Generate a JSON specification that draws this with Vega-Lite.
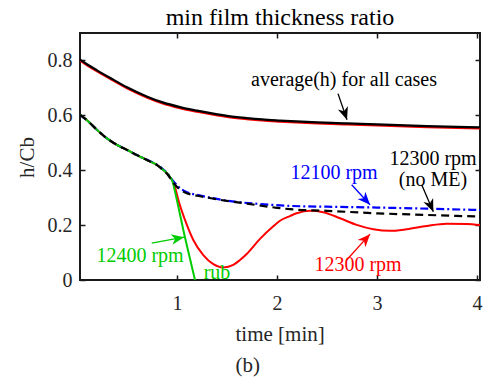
{
  "$schema": "https://vega.github.io/schema/vega-lite/v6.json",
  "autosize": "none",
  "width": 400,
  "height": 247,
  "padding": {"left": 80, "top": 33, "right": 4, "bottom": 98},
  "background": "white",
  "title": {
    "text": "min film thickness ratio",
    "font": "Liberation Serif",
    "fontSize": 24,
    "fontWeight": "normal",
    "color": "#000000",
    "anchor": "middle",
    "baseline": "alphabetic",
    "offset": 7,
    "dy": 24
  },
  "config": {
    "view": {"stroke": "#1a1a1a", "strokeWidth": 2},
    "axis": {
      "domain": false,
      "grid": false,
      "tickSize": -5,
      "tickColor": "#1a1a1a",
      "tickWidth": 1.5,
      "labelFont": "Liberation Serif",
      "labelFontSize": 20,
      "labelColor": "#262626",
      "titleFont": "Liberation Serif",
      "titleFontSize": 21,
      "titleFontWeight": "normal",
      "titleColor": "#262626"
    }
  },
  "datasets": {
    "curves": [
      {"series": "average", "t": 0.03, "h": 0.803},
      {"series": "average", "t": 0.1, "h": 0.786},
      {"series": "average", "t": 0.2, "h": 0.764},
      {"series": "average", "t": 0.363, "h": 0.73},
      {"series": "average", "t": 0.5, "h": 0.702},
      {"series": "average", "t": 0.697, "h": 0.669},
      {"series": "average", "t": 0.85, "h": 0.648},
      {"series": "average", "t": 1.03, "h": 0.63},
      {"series": "average", "t": 1.2, "h": 0.617},
      {"series": "average", "t": 1.363, "h": 0.606},
      {"series": "average", "t": 1.5, "h": 0.598},
      {"series": "average", "t": 1.697, "h": 0.59},
      {"series": "average", "t": 1.85, "h": 0.585},
      {"series": "average", "t": 2.03, "h": 0.581},
      {"series": "average", "t": 2.3, "h": 0.576},
      {"series": "average", "t": 2.7, "h": 0.571},
      {"series": "average", "t": 3.0, "h": 0.567},
      {"series": "average", "t": 3.5, "h": 0.561},
      {"series": "average", "t": 4.03, "h": 0.556},

      {"series": "average 12300", "t": 0.03, "h": 0.799},
      {"series": "average 12300", "t": 0.1, "h": 0.782},
      {"series": "average 12300", "t": 0.2, "h": 0.76},
      {"series": "average 12300", "t": 0.363, "h": 0.726},
      {"series": "average 12300", "t": 0.5, "h": 0.698},
      {"series": "average 12300", "t": 0.697, "h": 0.665},
      {"series": "average 12300", "t": 0.85, "h": 0.644},
      {"series": "average 12300", "t": 1.03, "h": 0.626},
      {"series": "average 12300", "t": 1.2, "h": 0.613},
      {"series": "average 12300", "t": 1.363, "h": 0.602},
      {"series": "average 12300", "t": 1.5, "h": 0.594},
      {"series": "average 12300", "t": 1.697, "h": 0.586},
      {"series": "average 12300", "t": 1.85, "h": 0.581},
      {"series": "average 12300", "t": 2.03, "h": 0.577},
      {"series": "average 12300", "t": 2.3, "h": 0.572},
      {"series": "average 12300", "t": 2.7, "h": 0.567},
      {"series": "average 12300", "t": 3.0, "h": 0.563},
      {"series": "average 12300", "t": 3.5, "h": 0.557},
      {"series": "average 12300", "t": 4.03, "h": 0.552},

      {"series": "12300 rpm", "t": 0.03, "h": 0.602},
      {"series": "12300 rpm", "t": 0.1, "h": 0.582},
      {"series": "12300 rpm", "t": 0.2, "h": 0.547},
      {"series": "12300 rpm", "t": 0.3, "h": 0.516},
      {"series": "12300 rpm", "t": 0.4, "h": 0.492},
      {"series": "12300 rpm", "t": 0.5, "h": 0.474},
      {"series": "12300 rpm", "t": 0.6, "h": 0.455},
      {"series": "12300 rpm", "t": 0.7, "h": 0.437},
      {"series": "12300 rpm", "t": 0.8, "h": 0.419},
      {"series": "12300 rpm", "t": 0.86, "h": 0.402},
      {"series": "12300 rpm", "t": 0.92, "h": 0.38},
      {"series": "12300 rpm", "t": 0.963, "h": 0.355},
      {"series": "12300 rpm", "t": 0.99, "h": 0.325},
      {"series": "12300 rpm", "t": 1.013, "h": 0.292},
      {"series": "12300 rpm", "t": 1.08, "h": 0.219},
      {"series": "12300 rpm", "t": 1.163, "h": 0.146},
      {"series": "12300 rpm", "t": 1.263, "h": 0.091},
      {"series": "12300 rpm", "t": 1.363, "h": 0.058},
      {"series": "12300 rpm", "t": 1.463, "h": 0.046},
      {"series": "12300 rpm", "t": 1.563, "h": 0.055},
      {"series": "12300 rpm", "t": 1.63, "h": 0.073},
      {"series": "12300 rpm", "t": 1.697, "h": 0.095},
      {"series": "12300 rpm", "t": 1.83, "h": 0.15},
      {"series": "12300 rpm", "t": 1.963, "h": 0.196},
      {"series": "12300 rpm", "t": 2.03, "h": 0.216},
      {"series": "12300 rpm", "t": 2.13, "h": 0.233},
      {"series": "12300 rpm", "t": 2.197, "h": 0.243},
      {"series": "12300 rpm", "t": 2.33, "h": 0.252},
      {"series": "12300 rpm", "t": 2.463, "h": 0.247},
      {"series": "12300 rpm", "t": 2.63, "h": 0.225},
      {"series": "12300 rpm", "t": 2.797, "h": 0.201},
      {"series": "12300 rpm", "t": 2.963, "h": 0.185},
      {"series": "12300 rpm", "t": 3.13, "h": 0.179},
      {"series": "12300 rpm", "t": 3.297, "h": 0.185},
      {"series": "12300 rpm", "t": 3.497, "h": 0.197},
      {"series": "12300 rpm", "t": 3.697, "h": 0.205},
      {"series": "12300 rpm", "t": 3.897, "h": 0.204},
      {"series": "12300 rpm", "t": 4.03, "h": 0.2},

      {"series": "12100 rpm", "t": 0.03, "h": 0.602},
      {"series": "12100 rpm", "t": 0.1, "h": 0.582},
      {"series": "12100 rpm", "t": 0.2, "h": 0.547},
      {"series": "12100 rpm", "t": 0.3, "h": 0.516},
      {"series": "12100 rpm", "t": 0.4, "h": 0.492},
      {"series": "12100 rpm", "t": 0.5, "h": 0.474},
      {"series": "12100 rpm", "t": 0.6, "h": 0.455},
      {"series": "12100 rpm", "t": 0.7, "h": 0.438},
      {"series": "12100 rpm", "t": 0.8, "h": 0.42},
      {"series": "12100 rpm", "t": 0.85, "h": 0.407},
      {"series": "12100 rpm", "t": 0.9, "h": 0.39},
      {"series": "12100 rpm", "t": 0.963, "h": 0.36},
      {"series": "12100 rpm", "t": 1.03, "h": 0.335},
      {"series": "12100 rpm", "t": 1.1, "h": 0.32},
      {"series": "12100 rpm", "t": 1.2, "h": 0.31},
      {"series": "12100 rpm", "t": 1.33, "h": 0.3},
      {"series": "12100 rpm", "t": 1.497, "h": 0.289},
      {"series": "12100 rpm", "t": 1.83, "h": 0.277},
      {"series": "12100 rpm", "t": 2.13, "h": 0.27},
      {"series": "12100 rpm", "t": 2.5, "h": 0.267},
      {"series": "12100 rpm", "t": 3.0, "h": 0.264},
      {"series": "12100 rpm", "t": 3.5, "h": 0.26},
      {"series": "12100 rpm", "t": 4.03, "h": 0.255},

      {"series": "12400 rpm", "t": 0.03, "h": 0.602},
      {"series": "12400 rpm", "t": 0.1, "h": 0.582},
      {"series": "12400 rpm", "t": 0.2, "h": 0.547},
      {"series": "12400 rpm", "t": 0.3, "h": 0.516},
      {"series": "12400 rpm", "t": 0.4, "h": 0.492},
      {"series": "12400 rpm", "t": 0.5, "h": 0.474},
      {"series": "12400 rpm", "t": 0.6, "h": 0.455},
      {"series": "12400 rpm", "t": 0.7, "h": 0.437},
      {"series": "12400 rpm", "t": 0.8, "h": 0.419},
      {"series": "12400 rpm", "t": 0.86, "h": 0.402},
      {"series": "12400 rpm", "t": 0.92, "h": 0.38},
      {"series": "12400 rpm", "t": 0.955, "h": 0.36},
      {"series": "12400 rpm", "t": 0.975, "h": 0.33},
      {"series": "12400 rpm", "t": 1.08, "h": 0.155},
      {"series": "12400 rpm", "t": 1.18, "h": 0.0},

      {"series": "12300 rpm (no ME)", "t": 0.03, "h": 0.602},
      {"series": "12300 rpm (no ME)", "t": 0.1, "h": 0.582},
      {"series": "12300 rpm (no ME)", "t": 0.2, "h": 0.547},
      {"series": "12300 rpm (no ME)", "t": 0.3, "h": 0.516},
      {"series": "12300 rpm (no ME)", "t": 0.4, "h": 0.492},
      {"series": "12300 rpm (no ME)", "t": 0.5, "h": 0.474},
      {"series": "12300 rpm (no ME)", "t": 0.6, "h": 0.455},
      {"series": "12300 rpm (no ME)", "t": 0.7, "h": 0.437},
      {"series": "12300 rpm (no ME)", "t": 0.8, "h": 0.419},
      {"series": "12300 rpm (no ME)", "t": 0.85, "h": 0.404},
      {"series": "12300 rpm (no ME)", "t": 0.9, "h": 0.387},
      {"series": "12300 rpm (no ME)", "t": 0.95, "h": 0.362},
      {"series": "12300 rpm (no ME)", "t": 0.98, "h": 0.347},
      {"series": "12300 rpm (no ME)", "t": 1.063, "h": 0.322},
      {"series": "12300 rpm (no ME)", "t": 1.2, "h": 0.307},
      {"series": "12300 rpm (no ME)", "t": 1.263, "h": 0.303},
      {"series": "12300 rpm (no ME)", "t": 1.5, "h": 0.288},
      {"series": "12300 rpm (no ME)", "t": 1.663, "h": 0.28},
      {"series": "12300 rpm (no ME)", "t": 2.0, "h": 0.263},
      {"series": "12300 rpm (no ME)", "t": 2.13, "h": 0.258},
      {"series": "12300 rpm (no ME)", "t": 2.5, "h": 0.252},
      {"series": "12300 rpm (no ME)", "t": 3.0, "h": 0.243},
      {"series": "12300 rpm (no ME)", "t": 3.5, "h": 0.237},
      {"series": "12300 rpm (no ME)", "t": 4.03, "h": 0.231}
    ],
    "labels": [
      {"series": "average", "text": "average(h) for all cases", "t": 2.67, "h": 0.708},
      {"series": "12100 rpm", "text": "12100 rpm", "t": 2.57, "h": 0.369},
      {"series": "12300 rpm (no ME)", "text": "12300 rpm", "t": 3.56, "h": 0.42},
      {"series": "12300 rpm (no ME)", "text": "(no ME)", "t": 3.56, "h": 0.343},
      {"series": "12300 rpm", "text": "12300 rpm", "t": 2.81, "h": 0.034},
      {"series": "12400 rpm", "text": "12400 rpm", "t": 0.63, "h": 0.067},
      {"series": "12400 rpm", "text": "rub", "t": 1.4, "h": 0.004}
    ],
    "arrows": [
      {"series": "average", "t": 2.61, "h": 0.679, "t_to": 2.7, "h_to": 0.584},
      {"series": "12100 rpm", "t": 2.747, "h": 0.347, "t_to": 2.93, "h_to": 0.274},
      {"series": "12300 rpm (no ME)", "t": 3.447, "h": 0.347, "t_to": 3.563, "h_to": 0.249},
      {"series": "12300 rpm", "t": 2.697, "h": 0.073, "t_to": 2.93, "h_to": 0.167},
      {"series": "12400 rpm", "t": 0.747, "h": 0.134, "t_to": 1.07, "h_to": 0.156}
    ]
  },
  "resolve": {"axis": {"x": "independent", "y": "independent"}},
  "layer": [
    {
      "data": {"name": "curves"},
      "transform": [{"filter": "datum.series === 'average 12300'"}],
      "mark": {"type": "line", "strokeWidth": 2, "interpolate": "monotone"},
      "encoding": {
        "x": {
          "field": "t", "type": "quantitative",
          "scale": {"domain": [0.03, 4.03], "nice": false, "zero": false},
          "axis": {
            "orient": "bottom",
            "values": [1, 2, 3, 4],
            "labelBaseline": "alphabetic",
            "labelPadding": 34,
            "title": ["time [min]", " (b)"],
            "titleAlign": "left",
            "titleBaseline": "alphabetic",
            "titleX": 155,
            "titleY": 60,
            "titleLineHeight": 31
          }
        },
        "y": {
          "field": "h", "type": "quantitative",
          "scale": {"domain": [0, 0.9], "nice": false, "zero": false},
          "axis": {
            "orient": "left",
            "values": [0, 0.2, 0.4, 0.6, 0.8],
            "format": "~g",
            "labelPadding": 13,
            "title": "h/Cb",
            "titleAngle": -90,
            "titleAlign": "center",
            "titleBaseline": "alphabetic",
            "titleX": -47,
            "titleY": 124
          }
        },
        "color": {
          "field": "series", "type": "nominal", "legend": null,
          "scale": {
            "domain": ["average", "average 12300", "12300 rpm", "12400 rpm", "12100 rpm", "12300 rpm (no ME)"],
            "range": ["#000000", "#ff0000", "#ff0000", "#00cc00", "#0000ff", "#000000"]
          }
        }
      }
    },
    {
      "data": {"name": "curves"},
      "transform": [{"filter": "datum.series === 'average'"}],
      "mark": {"type": "line", "strokeWidth": 2.2, "interpolate": "monotone"},
      "encoding": {
        "x": {"field": "t", "type": "quantitative", "scale": {"domain": [0.03, 4.03], "nice": false, "zero": false}, "axis": null},
        "y": {"field": "h", "type": "quantitative", "scale": {"domain": [0, 0.9], "nice": false, "zero": false}, "axis": null},
        "color": {"field": "series", "type": "nominal", "legend": null}
      }
    },
    {
      "data": {"name": "curves"},
      "transform": [{"filter": "datum.series === '12300 rpm'"}],
      "mark": {"type": "line", "strokeWidth": 2, "interpolate": "monotone"},
      "encoding": {
        "x": {"field": "t", "type": "quantitative", "scale": {"domain": [0.03, 4.03], "nice": false, "zero": false}, "axis": null},
        "y": {"field": "h", "type": "quantitative", "scale": {"domain": [0, 0.9], "nice": false, "zero": false}, "axis": null},
        "color": {"field": "series", "type": "nominal", "legend": null}
      }
    },
    {
      "data": {"name": "curves"},
      "transform": [{"filter": "datum.series === '12100 rpm'"}],
      "mark": {"type": "line", "strokeWidth": 2.2, "strokeDash": [8, 3, 2, 3], "interpolate": "monotone"},
      "encoding": {
        "x": {
          "field": "t", "type": "quantitative",
          "scale": {"domain": [0.03, 4.03], "nice": false, "zero": false},
          "axis": {"orient": "top", "values": [1, 2, 3, 4], "labels": false, "title": null}
        },
        "y": {
          "field": "h", "type": "quantitative",
          "scale": {"domain": [0, 0.9], "nice": false, "zero": false},
          "axis": {"orient": "right", "values": [0, 0.2, 0.4, 0.6, 0.8], "labels": false, "title": null}
        },
        "color": {"field": "series", "type": "nominal", "legend": null}
      }
    },
    {
      "data": {"name": "curves"},
      "transform": [{"filter": "datum.series === '12400 rpm'"}],
      "mark": {"type": "line", "strokeWidth": 2, "interpolate": "monotone"},
      "encoding": {
        "x": {"field": "t", "type": "quantitative", "scale": {"domain": [0.03, 4.03], "nice": false, "zero": false}, "axis": null},
        "y": {"field": "h", "type": "quantitative", "scale": {"domain": [0, 0.9], "nice": false, "zero": false}, "axis": null},
        "color": {"field": "series", "type": "nominal", "legend": null}
      }
    },
    {
      "data": {"name": "curves"},
      "transform": [{"filter": "datum.series === '12300 rpm (no ME)'"}],
      "mark": {"type": "line", "strokeWidth": 2.2, "strokeDash": [8, 5], "interpolate": "monotone"},
      "encoding": {
        "x": {"field": "t", "type": "quantitative", "scale": {"domain": [0.03, 4.03], "nice": false, "zero": false}, "axis": null},
        "y": {"field": "h", "type": "quantitative", "scale": {"domain": [0, 0.9], "nice": false, "zero": false}, "axis": null},
        "color": {"field": "series", "type": "nominal", "legend": null}
      }
    },
    {
      "data": {"name": "arrows"},
      "mark": {"type": "rule", "strokeWidth": 1.3},
      "encoding": {
        "x": {"field": "t", "type": "quantitative", "scale": {"domain": [0.03, 4.03], "nice": false, "zero": false}, "axis": null},
        "y": {"field": "h", "type": "quantitative", "scale": {"domain": [0, 0.9], "nice": false, "zero": false}, "axis": null},
        "x2": {"field": "t_to"},
        "y2": {"field": "h_to"},
        "color": {"field": "series", "type": "nominal", "legend": null}
      }
    },
    {
      "data": {"name": "arrows"},
      "transform": [
        {"calculate": "atan2((datum.t_to - datum.t) * 100, (datum.h_to - datum.h) * 274.44) * 180 / PI", "as": "heading"}
      ],
      "mark": {
        "type": "point",
        "shape": "M0,0 L0.5,1.2 L0,0.85 L-0.5,1.2 Z",
        "size": 450,
        "filled": true,
        "opacity": 1,
        "strokeWidth": 0
      },
      "encoding": {
        "x": {"field": "t_to", "type": "quantitative", "scale": {"domain": [0.03, 4.03], "nice": false, "zero": false}, "axis": null},
        "y": {"field": "h_to", "type": "quantitative", "scale": {"domain": [0, 0.9], "nice": false, "zero": false}, "axis": null},
        "angle": {"field": "heading", "type": "quantitative", "scale": null},
        "color": {"field": "series", "type": "nominal", "legend": null}
      }
    },
    {
      "data": {"name": "labels"},
      "mark": {
        "type": "text",
        "font": "Liberation Serif",
        "fontSize": 20,
        "align": "center",
        "baseline": "alphabetic"
      },
      "encoding": {
        "x": {"field": "t", "type": "quantitative", "scale": {"domain": [0.03, 4.03], "nice": false, "zero": false}, "axis": null},
        "y": {"field": "h", "type": "quantitative", "scale": {"domain": [0, 0.9], "nice": false, "zero": false}, "axis": null},
        "text": {"field": "text"},
        "color": {"field": "series", "type": "nominal", "legend": null}
      }
    }
  ]
}
